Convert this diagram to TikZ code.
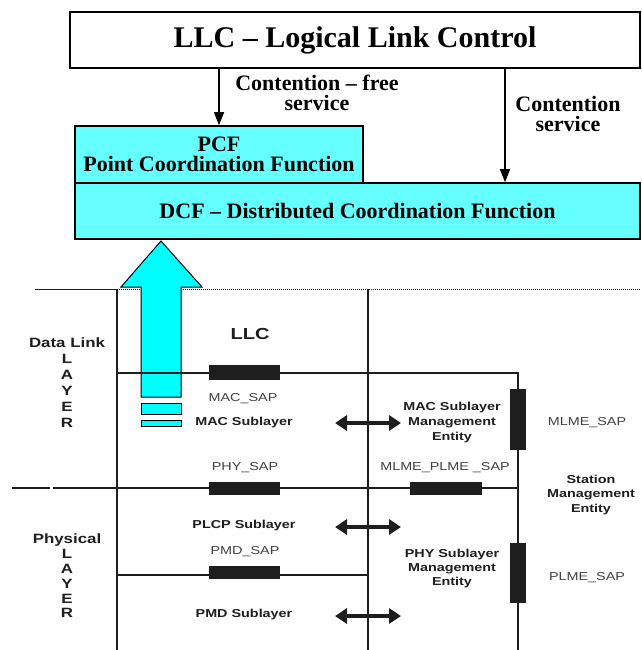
\documentclass[tikz,border=0pt]{standalone}
\usepackage{fontspec}
\setmainfont{Liberation Serif}
\newfontfamily\lowfont[FakeStretch=1.25]{Liberation Sans}
\usetikzlibrary{arrows.meta}
\definecolor{boxcyan}{HTML}{66FFFF}
\definecolor{arrcyan}{HTML}{00FFFF}
\definecolor{ink}{HTML}{1E1E1E}
\tikzset{
  topbox/.style={draw=black,line width=1.6pt,fill=boxcyan,inner sep=0pt},
  toptext/.style={font=\fontsize{22}{20}\selectfont\bfseries,align=center,inner sep=0pt},
  svcarrow/.style={line width=1.3pt,-{Triangle[length=13pt,width=10pt]}},
  thinline/.style={draw=ink,line width=1.1pt},
  sapbar/.style={fill=ink,draw=none},
  dblarrow/.style={draw=ink,line width=3.6pt,{Triangle[length=12pt,width=15pt]}-{Triangle[length=12pt,width=15pt]}},
  lowb/.style={font=\lowfont\fontsize{11.5}{15}\selectfont\bfseries,text=ink,align=center,inner sep=0pt},
  lowr/.style={font=\lowfont\fontsize{11.5}{15}\selectfont,text=ink!85,align=center,inner sep=0pt}
}
\begin{document}
\begin{tikzpicture}[x=1pt,y=-1pt]
\useasboundingbox (0,0) rectangle (641,650);
% top boxes
\node[draw=black,line width=1.6pt,fill=white,minimum width=570pt,minimum height=56pt,inner sep=0pt,
      font=\fontsize{30}{30}\selectfont\bfseries] (llc) at (355,40) {LLC -- Logical Link Control};
\node[topbox,minimum width=565pt,minimum height=56pt,font=\fontsize{22}{22}\selectfont\bfseries] (dcf) at (357.5,211)
      {DCF -- Distributed Coordination Function};
\node[topbox,minimum width=288pt,minimum height=57pt,toptext] (pcf) at (219,154.5)
      {PCF\\Point Coordination Function};
\coordinate (c2) at (505,0);
\draw[svcarrow] (pcf.north |- llc.south) -- (pcf.north);
\draw[svcarrow] (llc.south -| c2) -- (dcf.north -| c2);
\node[toptext] (cf) at (317,93) {Contention -- free\\service};
\node[toptext] (cs) at (568,114) {Contention\\service};
% big cyan arrow
\draw[fill=arrcyan,line width=1pt] (141,397) -- (141,287) -- (121,287) -- (161,241) -- (202,287) -- (181,287) -- (181,397) -- cycle;
\draw[fill=arrcyan,line width=1pt] (141,403) rectangle (181,414);
\draw[fill=arrcyan,line width=1pt] (141,420) rectangle (181,426);
% frame lines
\draw[thinline] (35,289.5) -- (117,289.5);
\draw[draw=ink,line width=1pt,dash pattern=on 1pt off 1pt] (181,289.5) -- (641,289.5);
\draw[draw=ink,line width=1pt,dash pattern=on 1pt off 1pt] (117,289.5) -- (141,289.5);
\draw[thinline,line width=1.5pt] (117,289) -- (117,650);
\draw[thinline,line width=1.5pt] (368,289) -- (368,650);
\draw[thinline] (117,373) -- (518,373) -- (518,650);
\draw[thinline] (12,488) -- (50,488);
\draw[thinline] (53,488) -- (518,488);
\draw[thinline] (117,575) -- (368,575);
% SAP bars
\fill[sapbar] (209,365) rectangle (280,380);
\fill[sapbar] (209,482) rectangle (280,495);
\fill[sapbar] (209,566) rectangle (280,579);
\fill[sapbar] (410,482) rectangle (482,495);
\fill[sapbar] (510,389) rectangle (526,450);
\fill[sapbar] (510,543) rectangle (526,603);
% double arrows
\coordinate (a1l) at (335,423); \coordinate (a1r) at (401,423);
\coordinate (a2l) at (335,527); \coordinate (a2r) at (401,527);
\coordinate (a3l) at (335,616); \coordinate (a3r) at (401,616);
\draw[dblarrow] (a1l) -- (a1r);
\draw[dblarrow] (a2l) -- (a2r);
\draw[dblarrow] (a3l) -- (a3r);
% lower labels
\node[lowb,font=\lowfont\fontsize{16}{16}\selectfont\bfseries] (llc2) at (250,334) {LLC};
\node[lowb,font=\lowfont\fontsize{13.5}{16}\selectfont\bfseries] (dl) at (67,383) {Data Link\\L\\A\\Y\\E\\R};
\node[lowb,font=\lowfont\fontsize{13.5}{14.8}\selectfont\bfseries] (phys) at (67,576) {Physical\\L\\A\\Y\\E\\R};
\node[lowr] (macsap) at (243,399) {MAC\_SAP};
\node[lowb] (macsub) at (244,423) {MAC Sublayer};
\node[lowr] (physap) at (245,468) {PHY\_SAP};
\node[lowr] (mlmeplme) at (445,468) {MLME\_PLME \_SAP};
\node[lowb] (macme) at (452,423) {MAC Sublayer\\Management\\Entity};
\node[lowr] (mlmesap) at (587,423) {MLME\_SAP};
\node[lowb,font=\lowfont\fontsize{11.5}{14.5}\selectfont\bfseries] (sme) at (591,495) {Station\\Management\\Entity};
\node[lowb] (plcp) at (244,526) {PLCP Sublayer};
\node[lowr] (pmdsap) at (245,552) {PMD\_SAP};
\node[lowb] (pmd) at (244,615) {PMD Sublayer};
\node[lowb,font=\lowfont\fontsize{11.5}{14}\selectfont\bfseries] (phyme) at (452,569) {PHY Sublayer\\Management\\Entity};
\node[lowr] (plmesap) at (587,578) {PLME\_SAP};
\end{tikzpicture}
\end{document}
